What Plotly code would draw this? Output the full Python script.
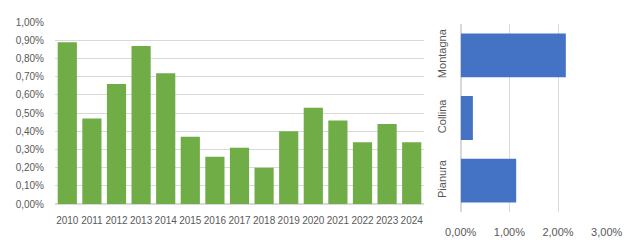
import plotly.graph_objects as go

years = [str(y) for y in range(2010, 2025)]
year_values = [0.0089, 0.0047, 0.0066, 0.0087, 0.0072, 0.0037, 0.0026, 0.0031, 0.0020,
               0.0040, 0.0053, 0.0046, 0.0034, 0.0044, 0.0034]
zones = ["Pianura", "Collina", "Montagna"]
zone_values = [0.0114, 0.0025, 0.0216]

W, H = 630, 240
font = dict(family="Liberation Sans, Arial, sans-serif", size=10, color="#595959")
font2 = dict(family="Liberation Sans, Arial, sans-serif", size=11, color="#595959")
grid = "#d9d9d9"

fig = go.Figure()
fig.add_trace(go.Bar(x=years, y=year_values, marker_color="#70AD47", marker_line_width=0,
                     xaxis="x", yaxis="y", showlegend=False))
fig.add_trace(go.Bar(y=zones, x=zone_values, orientation="h", marker_color="#4472C4",
                     marker_line_width=0, xaxis="x2", yaxis="y2", showlegend=False,
                     width=0.7))

fig.update_layout(
    width=W, height=H, margin=dict(l=0, r=0, t=0, b=0),
    paper_bgcolor="white", plot_bgcolor="white",
    separators=",.", font=font, bargap=0.22,
    xaxis=dict(domain=[55 / W, 424 / W], type="category", showgrid=False,
               showline=False, ticks="", tickfont=font, tickangle=0, anchor="y",
               automargin=False, ticklabelstandoff=9),
    yaxis=dict(domain=[1 - 204 / H, 1 - 22.3 / H], range=[0, 0.01], dtick=0.001,
               tickformat=".2%", showgrid=True, gridcolor=grid, gridwidth=1,
               zeroline=True, zerolinecolor=grid, showline=False, ticks="",
               tickfont=font, anchor="x", automargin=False, ticklabelstandoff=10),
    xaxis2=dict(domain=[460.7 / W, 606.7 / W], range=[0, 0.03], dtick=0.01,
                tickformat=".2%", showgrid=True, gridcolor=grid, zeroline=True,
                zerolinecolor=grid, showline=False, ticks="", tickfont=font2,
                anchor="y2", automargin=False, ticklabelstandoff=12),
    yaxis2=dict(domain=[1 - 212 / H, 1 - 24 / H], type="category", showgrid=False,
                showline=False, ticks="", tickangle=-90, tickfont=font2, anchor="x2",
                automargin=False, ticklabelstandoff=12),
)

fig.write_html("out.html")
